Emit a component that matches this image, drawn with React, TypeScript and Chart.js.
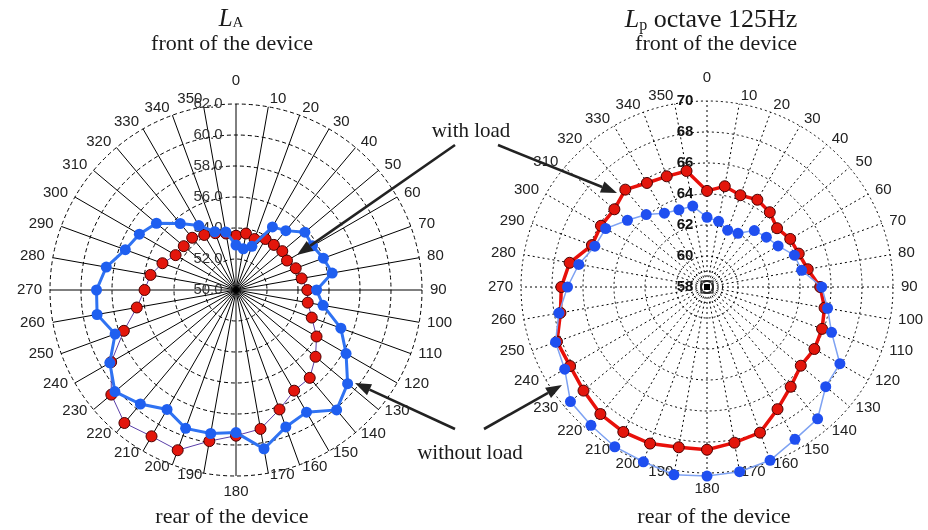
import React, { useEffect, useRef } from 'react';
import { Chart, registerables } from 'chart.js';

Chart.register(...registerables);

// angles (degrees) around the polar plots
const angleLabels: string[] = [
  '0', '10', '20', '30', '40', '50', '60', '70', '80', '90', '100', '110',
  '120', '130', '140', '150', '160', '170', '180', '190', '200', '210', '220', '230',
  '240', '250', '260', '270', '280', '290', '300', '310', '320', '330', '340', '350',
];

// Left plot: L_A (dB)
const laWithLoad: number[] = [
  53.5, 53.7, 53.5, 53.8, 53.8, 53.9, 53.8, 54.1, 54.3, 54.6, 54.7, 55.2,
  56.0, 56.7, 57.4, 57.5, 58.2, 59.1, 59.4, 59.9, 61.0, 60.9, 61.2, 60.5,
  59.3, 57.7, 56.5, 55.9, 55.6, 55.05, 54.5, 54.4, 54.4, 54.1, 53.9, 53.7,
];
const laWithoutLoad: number[] = [
  52.9, 52.7, 53.0, 54.7, 55.0, 55.8, 55.7, 56.0, 56.3, 55.2, 55.7, 57.2,
  58.2, 59.4, 60.1, 59.1, 59.4, 60.4, 59.2, 59.4, 59.5, 58.9, 59.6, 60.2,
  59.4, 58.3, 59.1, 59.0, 58.5, 57.6, 57.2, 56.7, 55.6, 54.8, 54.0, 53.8,
];
const laTickValues: number[] = [50, 52, 54, 56, 58, 60, 62];
const laTickLabels: string[] = ['50.0', '52.0', '54.0', '56.0', '58.0', '60.0', '62.0'];

// Right plot: Lp octave 125 Hz (dB)
const lpWithLoad: number[] = [
  64.2, 64.6, 64.3, 64.5, 64.3, 63.9, 64.2, 64.3, 64.6, 65.3, 65.7, 65.9,
  66.0, 65.9, 66.4, 67.1, 68.0, 68.2, 68.5, 68.5, 68.75, 68.8, 68.7, 68.4,
  68.2, 68.3, 67.6, 67.4, 67.0, 65.9, 65.9, 65.8, 66.2, 65.75, 65.6, 65.6,
];
const lpWithoutLoad: number[] = [
  62.5, 62.3, 61.9, 62.0, 62.75, 63.0, 63.3, 64.0, 64.2, 65.4, 65.9, 66.55,
  67.9, 68.0, 69.1, 69.35, 69.9, 70.1, 70.2, 70.3, 70.0, 69.9, 69.65, 69.5,
  68.6, 68.4, 67.7, 67.0, 66.4, 65.7, 65.55, 64.7, 64.1, 63.5, 63.3, 63.3,
];
const lpTickValues: number[] = [58, 60, 62, 64, 66, 68, 70];
const lpTickLabels: string[] = ['58', '60', '62', '64', '66', '68', '70'];

const SANS = '"Liberation Sans", Arial, sans-serif';
const SERIF = '"Liberation Serif", "Times New Roman", serif';

function labelPlugin(values: number[], labels: string[], font: string, color: string, dx: number, extra?: (chart: any) => void) {
  return {
    id: 'customLabels',
    beforeDatasetsDraw(chart: any) {
      const s: any = chart.scales.r;
      const ctx = chart.ctx;
      ctx.save();
      if (extra) extra(chart);
      // angle labels around the circle
      ctx.font = `15px ${SANS}`;
      ctx.fillStyle = '#222';
      ctx.textBaseline = 'middle';
      angleLabels.forEach((lab) => {
        const a = (Number(lab) * Math.PI) / 180;
        const sn = Math.sin(a);
        const cs = Math.cos(a);
        let x: number;
        let y: number;
        if (Math.abs(sn) < 0.01) {
          ctx.textAlign = 'center';
          x = s.xCenter;
          y = cs > 0 ? s.yCenter - (s.drawingArea + 23) : s.yCenter + (s.drawingArea + 16);
        } else {
          ctx.textAlign = sn > 0 ? 'left' : 'right';
          x = s.xCenter + (s.drawingArea + 8) * sn;
          const R = cs > 0 ? s.drawingArea + 8 : s.drawingArea + 2;
          y = s.yCenter - R * cs;
        }
        ctx.fillText(lab, x, y);
      });
      // radial tick labels
      ctx.font = font;
      ctx.fillStyle = color;
      ctx.textAlign = 'center';
      ctx.textBaseline = 'middle';
      values.forEach((v, i) => {
        const d = s.getDistanceFromCenterForValue(v);
        ctx.fillText(labels[i], s.xCenter + dx, s.yCenter - d);
      });
      ctx.restore();
    },
  };
}

function PolarCanvas(props: { left: number; top: number; size: number; kind: 'la' | 'lp' }) {
  const ref = useRef<HTMLCanvasElement>(null);
  useEffect(() => {
    const isLa = props.kind === 'la';
    const datasets = isLa
      ? [
          {
            label: 'without load',
            data: laWithoutLoad,
            borderColor: '#2f72f2',
            borderWidth: 3,
            backgroundColor: '#1f5ff0',
            pointBackgroundColor: '#1f5ff0',
            pointBorderColor: '#1f5ff0',
            pointBorderWidth: 0,
            pointRadius: 5.5,
            fill: false,
            tension: 0,
          },
          {
            label: 'with load',
            data: laWithLoad,
            borderColor: '#5a3fa8',
            borderWidth: 1,
            backgroundColor: '#e3160c',
            pointBackgroundColor: '#e3160c',
            pointBorderColor: '#4a0000',
            pointBorderWidth: 1,
            pointRadius: 5.5,
            fill: false,
            tension: 0,
          },
        ]
      : [
          {
            label: 'without load',
            data: lpWithoutLoad,
            borderColor: '#7ea2f2',
            borderWidth: 1.5,
            backgroundColor: '#1f4ff0',
            pointBackgroundColor: '#1f4ff0',
            pointBorderColor: '#1f4ff0',
            pointBorderWidth: 0,
            pointRadius: 5.5,
            fill: false,
            tension: 0,
          },
          {
            label: 'with load',
            data: lpWithLoad,
            borderColor: '#e8100a',
            borderWidth: 3.5,
            backgroundColor: '#e3160c',
            pointBackgroundColor: '#e3160c',
            pointBorderColor: '#4a0000',
            pointBorderWidth: 1,
            pointRadius: 5.5,
            fill: false,
            tension: 0,
          },
        ];

    const plugin = isLa
      ? labelPlugin(laTickValues, laTickLabels, `15px ${SANS}`, '#333', -28)
      : labelPlugin(lpTickValues, lpTickLabels, `bold 15px ${SANS}`, '#111', -22, (chart: any) => {
          const s: any = chart.scales.r;
          const ctx = chart.ctx;
          ctx.save();
          ctx.strokeStyle = '#000';
          ctx.lineWidth = 1;
          ctx.setLineDash([2, 3]);
          ctx.beginPath();
          ctx.arc(s.xCenter, s.yCenter, s.getDistanceFromCenterForValue(59), 0, Math.PI * 2);
          ctx.stroke();
          ctx.setLineDash([]);
          ctx.strokeRect(s.xCenter - 6, s.yCenter - 6, 12, 12);
          ctx.fillStyle = '#000';
          ctx.fillRect(s.xCenter - 3, s.yCenter - 3, 6, 6);
          ctx.restore();
        });

    const chart = new Chart(ref.current as HTMLCanvasElement, {
      type: 'radar',
      data: { labels: angleLabels, datasets: datasets as any },
      options: {
        animation: false,
        responsive: false,
        maintainAspectRatio: false,
        devicePixelRatio: 1,
        layout: { padding: 40 },
        plugins: { legend: { display: false }, tooltip: { enabled: false }, title: { display: false } },
        scales: {
          r: {
            min: isLa ? 50 : 58,
            max: isLa ? 62 : 70,
            ticks: { display: false, stepSize: 2 },
            grid: { circular: true, color: '#000', lineWidth: 1 },
            border: { dash: isLa ? [4, 3] : [2, 3] },
            angleLines: {
              display: true,
              color: '#000',
              lineWidth: 1,
              borderDash: isLa ? [] : [2, 3],
            },
            pointLabels: { display: false },
          } as any,
        },
      },
      plugins: [plugin],
    });
    return () => chart.destroy();
  }, []);
  return (
    <canvas
      ref={ref}
      width={props.size}
      height={props.size}
      style={{ position: 'absolute', left: props.left, top: props.top, width: props.size, height: props.size }}
    />
  );
}

function Arrow(p: { x1: number; y1: number; x2: number; y2: number }) {
  const ang = Math.atan2(p.y2 - p.y1, p.x2 - p.x1);
  const L = 16;
  const W = 6;
  const bx = p.x2 - L * Math.cos(ang);
  const by = p.y2 - L * Math.sin(ang);
  const nx = -Math.sin(ang) * W;
  const ny = Math.cos(ang) * W;
  return (
    <g>
      <line x1={p.x1} y1={p.y1} x2={bx} y2={by} stroke="#222" strokeWidth={2.6} />
      <polygon points={`${p.x2},${p.y2} ${bx + nx},${by + ny} ${bx - nx},${by - ny}`} fill="#222" />
    </g>
  );
}

export default function App() {
  return (
    <div style={{ position: 'absolute', left: 0, top: 0, width: 928, height: 530, background: '#fff', overflow: 'hidden' }}>
      <PolarCanvas kind="la" left={10} top={64} size={452} />
      <PolarCanvas kind="lp" left={481} top={61} size={452} />
      <svg width={928} height={530} style={{ position: 'absolute', left: 0, top: 0, pointerEvents: 'none' }}>
        <g fontFamily={SERIF} fill="#1a1a1a">
          <text x={231} y={26} textAnchor="middle" fontSize={25}>
            <tspan fontStyle="italic">L</tspan>
            <tspan fontSize={15} dy={1}>A</tspan>
          </text>
          <text x={232} y={50} textAnchor="middle" fontSize={22}>front of the device</text>
          <text x={711} y={27} textAnchor="middle" fontSize={26}>
            <tspan fontStyle="italic">L</tspan>
            <tspan fontSize={16} dy={3}>p</tspan>
            <tspan dy={-3}> octave 125Hz</tspan>
          </text>
          <text x={716} y={50} textAnchor="middle" fontSize={22}>front of the device</text>
          <text x={232} y={523} textAnchor="middle" fontSize={22}>rear of the device</text>
          <text x={714} y={523} textAnchor="middle" fontSize={22}>rear of the device</text>
          <text x={471} y={137} textAnchor="middle" fontSize={21}>with load</text>
          <text x={470} y={459} textAnchor="middle" fontSize={21}>without load</text>
        </g>
        <Arrow x1={455} y1={145} x2={297} y2={255} />
        <Arrow x1={498} y1={145} x2={617} y2={193} />
        <Arrow x1={455} y1={429} x2={355} y2={383} />
        <Arrow x1={484} y1={429} x2={562} y2={385} />
      </svg>
    </div>
  );
}
